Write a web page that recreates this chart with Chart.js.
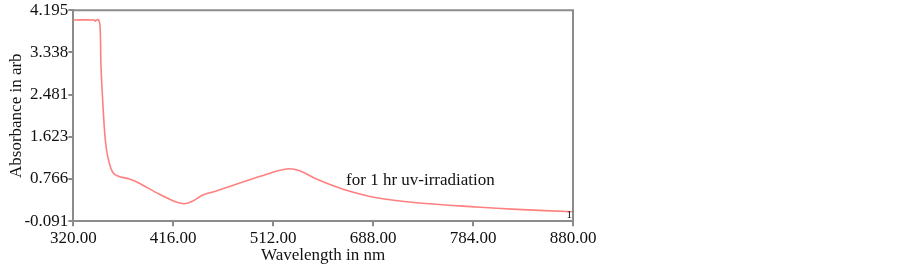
<!DOCTYPE html>
<html>
<head>
<meta charset="utf-8">
<script src="https://cdn.jsdelivr.net/npm/chart.js@4/dist/chart.umd.min.js"></script>
<style>
  html, body { margin: 0; padding: 0; background: #fff; }
  #wrap { width: 903px; height: 265px; position: relative; }
</style>
</head>
<body>
<div id="wrap"><canvas id="uvChart"></canvas></div>
<script>
// x positions are in axis units (ticks evenly spaced every 96), labelled as printed on the original
const xTickPos = [320, 416, 512, 608, 704, 800];
const xTickLabels = ['320.00', '416.00', '512.00', '688.00', '784.00', '880.00'];
const yTicks = [-0.091, 0.766, 1.623, 2.481, 3.338, 4.195];

// absorbance
const wavelength = [320, 340.2, 341.2, 342.1, 344.3, 345.7, 346.6, 348.2, 350.8, 354, 359.4, 373.9, 381.9,
    402.7, 418.8, 426.8, 434.8, 444.4, 457.3, 498.9, 524.6, 537.4, 553.5, 579.1, 611.2, 649.7, 707.4, 745.9, 800];
const absorbance = [3.996, 3.996, 3.97, 3.996, 3.996, 3.873, 3.053, 2.37, 1.549, 1.139, 0.866, 0.764, 0.694,
    0.456, 0.299, 0.264, 0.319, 0.442, 0.524, 0.817, 0.969, 0.934, 0.764, 0.559, 0.387, 0.284, 0.196, 0.149, 0.1];

const seriesLabel = 'for 1 hr uv-irradiation';
const font = 'Liberation Serif';

const points = wavelength.map((x, i) => ({ x: x, y: absorbance[i] }));

// frame around the plot plus the in-plot texts
const framePlugin = {
    id: 'frame',
    afterDraw(chart) {
        const ctx = chart.ctx;
        const a = chart.chartArea;
        ctx.save();
        ctx.strokeStyle = '#8c8c8c';
        ctx.lineWidth = 2;
        ctx.beginPath();
        ctx.moveTo(a.left, a.top);
        ctx.lineTo(a.right, a.top);
        ctx.lineTo(a.right, a.bottom);
        ctx.stroke();
        const xs = chart.scales.x, ys = chart.scales.y;
        ctx.fillStyle = '#111';
        ctx.font = '17px "' + font + '"';
        ctx.textBaseline = 'middle';
        ctx.fillText(seriesLabel, xs.getPixelForValue(582), ys.getPixelForValue(0.73));
        ctx.font = '11px "' + font + '"';
        ctx.textAlign = 'right';
        ctx.fillText('1', a.right - 1, a.bottom - 6);
        ctx.restore();
    }
};

new Chart(document.getElementById('uvChart'), {
    type: 'line',
    data: {
        datasets: [{
            label: seriesLabel,
            data: points,
            borderColor: '#ff8080',
            borderWidth: 1.6,
            pointRadius: 0,
            tension: 0.35,
            fill: false
        }]
    },
    options: {
        responsive: true,
        maintainAspectRatio: false,
        animation: false,
        layout: { padding: { left: 6, right: 330, top: 10, bottom: -1 } },
        plugins: { legend: { display: false }, tooltip: { enabled: false } },
        scales: {
            x: {
                type: 'linear',
                min: 320,
                max: 800,
                afterBuildTicks: (s) => { s.ticks = xTickPos.map(v => ({ value: v })); },
                ticks: {
                    color: '#111',
                    font: { family: font, size: 17 },
                    maxRotation: 0,
                    padding: 2,
                    callback: (v) => xTickLabels[xTickPos.indexOf(v)]
                },
                grid: { drawOnChartArea: false, tickLength: 5, color: '#8c8c8c', lineWidth: 2 },
                border: { color: '#8c8c8c', width: 2 },
                title: { display: true, text: 'Wavelength in nm', color: '#111', font: { family: font, size: 17 }, padding: { top: -5, bottom: 0 } }
            },
            y: {
                min: -0.091,
                max: 4.195,
                afterBuildTicks: (s) => { s.ticks = yTicks.map(v => ({ value: v })); },
                ticks: {
                    color: '#111',
                    font: { family: font, size: 17 },
                    padding: 0,
                    callback: (v) => v.toFixed(3)
                },
                grid: { drawOnChartArea: false, tickLength: 5, color: '#8c8c8c', lineWidth: 2 },
                border: { color: '#8c8c8c', width: 2 },
                title: { display: true, text: 'Absorbance in arb', color: '#111', font: { family: font, size: 17 }, padding: { top: 0, bottom: -2 } }
            }
        }
    },
    plugins: [framePlugin]
});
</script>
</body>
</html>
